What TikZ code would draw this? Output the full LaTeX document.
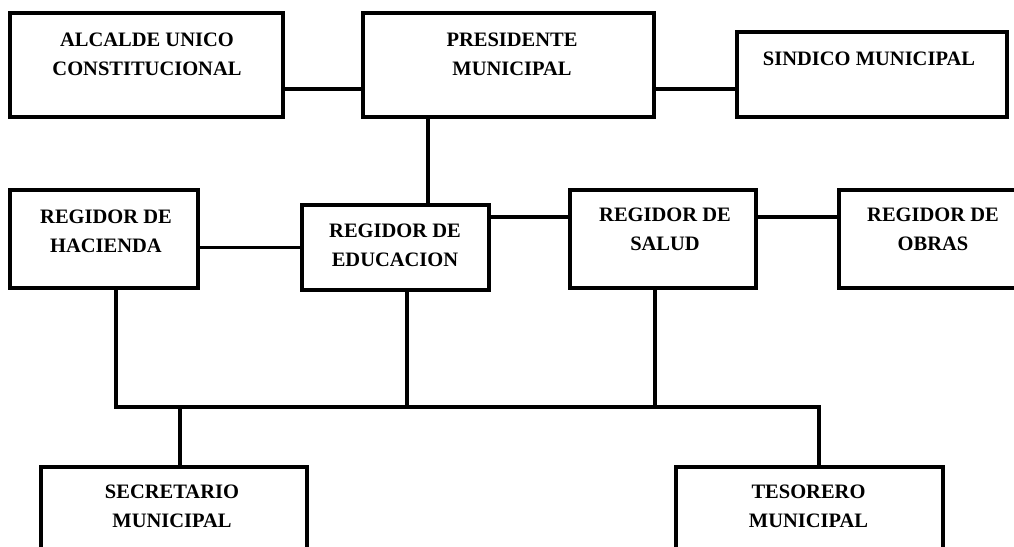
\documentclass[tikz,border=0pt]{standalone}
\usepackage{fontspec}
\setmainfont{Liberation Serif}
\begin{document}
\begin{tikzpicture}[x=1pt,y=-1pt,
  box/.style={draw, line width=3.2pt, inner sep=0pt, outer sep=0pt},
  lbl/.style={font=\fontsize{20.5}{29}\selectfont\bfseries, inner sep=0pt, outer sep=0pt, align=center, anchor=base},
  conn/.style={line width=3.2pt, line cap=rect}]
\useasboundingbox (0,0) rectangle (1014,546);
\clip (0,0) rectangle (1014,546);
% boxes
\node[box, minimum width=273, minimum height=104] (alc) at (146.5,65) {};
\node[box, minimum width=291, minimum height=104] (pres) at (508.5,65) {};
\node[box, minimum width=270, minimum height=85] (sind) at (872,74.5) {};
\node[box, minimum width=188, minimum height=98] (hac) at (104,239) {};
\node[box, minimum width=187, minimum height=85] (edu) at (395.5,247.5) {};
\node[box, minimum width=186, minimum height=98] (sal) at (663,239) {};
\node[box, minimum width=201, minimum height=98] (obr) at (939.5,239) {};
\node[box, minimum width=266, minimum height=113] (sec) at (174,523.5) {};
\node[box, minimum width=267, minimum height=113] (tes) at (809.5,523.5) {};
% texts (base anchor = baseline of the last line)
\node[lbl] (alc-t) at (147,75) {ALCALDE UNICO\\CONSTITUCIONAL};
\node[lbl] (pres-t) at (512,75) {PRESIDENTE\\MUNICIPAL};
\node[lbl] (sind-t) at (869,65) {SINDICO MUNICIPAL};
\node[lbl] (hac-t) at (106,252) {REGIDOR DE\\HACIENDA};
\node[lbl] (edu-t) at (395,266) {REGIDOR DE\\EDUCACION};
\node[lbl] (sal-t) at (665,250) {REGIDOR DE\\SALUD};
\node[lbl] (obr-t) at (933,250) {REGIDOR DE\\OBRAS};
\node[lbl] (sec-t) at (172,527) {SECRETARIO\\MUNICIPAL};
\node[lbl] (tes-t) at (808.5,527) {TESORERO\\MUNICIPAL};
% helper coordinates
\coordinate (topline) at (0,89);
\coordinate (presdrop) at (428,0);
\coordinate (midline) at (0,217);
\coordinate (busL) at (116,407);
\coordinate (busR) at (819,407);
\coordinate (edudrop) at (407,407);
\coordinate (saldrop) at (655,407);
\coordinate (secdrop) at (180,407);
% connectors
\draw[conn] (alc.east |- topline) -- (pres.west |- topline);
\draw[conn] (pres.east |- topline) -- (sind.west |- topline);
\draw[conn] (pres.south -| presdrop) -- (edu.north -| presdrop);
\draw[conn] (hac.east |- edu.west) -- (edu.west);
\draw[conn] (edu.east |- midline) -- (sal.west |- midline);
\draw[conn] (sal.east |- midline) -- (obr.west |- midline);
\draw[conn] (hac.south -| busL) -- (busL) -- (busR) -- (tes.north -| busR);
\draw[conn] (edu.south -| edudrop) -- (edudrop);
\draw[conn] (sal.south -| saldrop) -- (saldrop);
\draw[conn] (secdrop) -- (sec.north -| secdrop);
\end{tikzpicture}
\end{document}
